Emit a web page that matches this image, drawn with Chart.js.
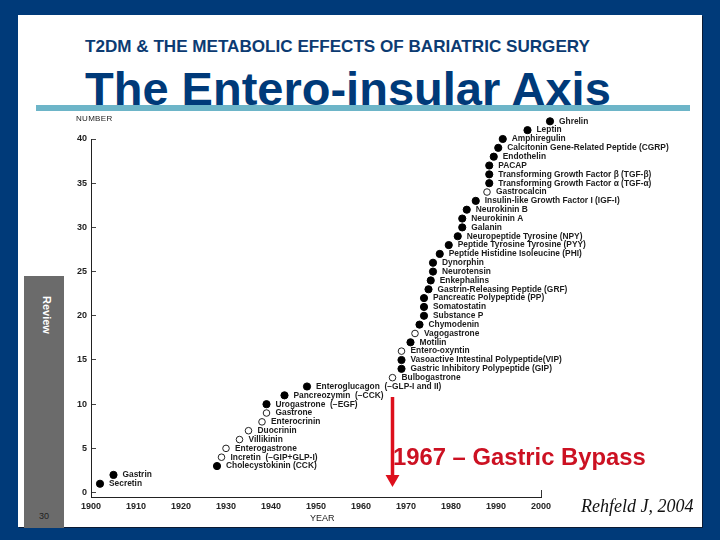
<!DOCTYPE html>
<html>
<head>
<meta charset="utf-8">
<title>The Entero-insular Axis</title>
<script src="https://cdn.jsdelivr.net/npm/chart.js@4"></script>
<style>
html, body { margin: 0; padding: 0; }
body { width: 720px; height: 540px; background: #003a79; position: relative; overflow: hidden; font-family: "Liberation Sans", Arial, sans-serif; }
#panel { position: absolute; left: 18px; top: 15px; width: 684px; height: 512px; background: #fff; box-shadow: 1px 1px 0 #0b1a33; }
#sidebar { position: absolute; left: 24px; top: 276px; width: 40px; height: 252px; background: #6b6b6b; }
#review { position: absolute; left: 40px; top: 296px; writing-mode: vertical-rl; color: #fff; font-weight: bold; font-size: 11px; line-height: 14px; }
#page { position: absolute; left: 39px; top: 511px; font-size: 9px; color: #222; }
#sub { position: absolute; left: 85px; top: 37px; font-size: 17.1px; font-weight: bold; color: #0c3b72; white-space: nowrap; }
#title { position: absolute; left: 85px; top: 63px; font-size: 47px; line-height: 52px; font-weight: bold; color: #003a79; white-space: nowrap; }
#rule { position: absolute; left: 36px; top: 105px; width: 654px; height: 6px; background: #6db5c8; }
#chartwrap { position: absolute; left: 0; top: 0; width: 720px; height: 540px; }
#numlabel { position: absolute; left: 76px; top: 114px; font-size: 8px; letter-spacing: 0.3px; color: #222; }
#yearlabel { position: absolute; left: 310px; top: 513px; font-size: 9px; color: #222; }
#bypass { position: absolute; left: 393px; top: 443px; font-size: 23.8px; font-weight: bold; color: #cc1122; white-space: nowrap; }
#cite { position: absolute; left: 581px; top: 496px; font-family: "Liberation Serif", serif; font-style: italic; font-size: 18px; color: #111; white-space: nowrap; }
</style>
</head>
<body>
<div id="panel"></div>
<div id="sidebar"></div>
<div id="review">Review</div>
<div id="page">30</div>
<div id="sub">T2DM &amp; THE METABOLIC EFFECTS OF BARIATRIC SURGERY</div>
<div id="title">The Entero-insular Axis</div>
<div id="rule"></div>
<div id="chartwrap"><canvas id="chart" width="720" height="540"></canvas></div>
<div id="numlabel">NUMBER</div>
<div id="yearlabel">YEAR</div>
<div id="bypass">1967 – Gastric Bypass</div>
<div id="cite">Rehfeld J, 2004</div>

<script>
// peptides in order of discovery (count = running total)
var peptideNames = [
    "Secretin", "Gastrin", "Cholecystokinin (CCK)", "Incretin  (−GIP+GLP-I)", "Enterogastrone",
    "Villikinin", "Duocrinin", "Enterocrinin", "Gastrone", "Urogastrone  (−EGF)",
    "Pancreozymin  (−CCK)", "Enteroglucagon  (−GLP-I and II)", "Bulbogastrone",
    "Gastric Inhibitory Polypeptide (GIP)", "Vasoactive Intestinal Polypeptide(VIP)", "Entero-oxyntin",
    "Motilin", "Vagogastrone", "Chymodenin", "Substance P", "Somatostatin",
    "Pancreatic Polypeptide (PP)", "Gastrin-Releasing Peptide (GRF)", "Enkephalins", "Neurotensin",
    "Dynorphin", "Peptide Histidine Isoleucine (PHI)", "Peptide Tyrosine Tyrosine (PYY)",
    "Neuropeptide Tyrosine (NPY)", "Galanin", "Neurokinin A", "Neurokinin B",
    "Insulin-like Growth Factor I (IGF-I)", "Gastrocalcin", "Transforming Growth Factor α (TGF-α)",
    "Transforming Growth Factor β (TGF-β)", "PACAP", "Endothelin",
    "Calcitonin Gene-Related Peptide (CGRP)", "Amphiregulin", "Leptin", "Ghrelin"
];
var peptideYears = [
    1902, 1905, 1928, 1929, 1930, 1933, 1935, 1938, 1939, 1939,
    1943, 1948, 1967, 1969, 1969, 1969, 1971, 1972, 1973, 1974,
    1974, 1974, 1975, 1975.5, 1976, 1976, 1977.5, 1979.5, 1981.5, 1982.5,
    1982.5, 1983.5, 1985.5, 1988, 1988.5, 1988.5, 1988.5, 1989.5, 1990.5, 1991.5,
    1997, 2002
];
var peptideCounts = [
    1, 2, 3, 4, 5, 6, 7, 8, 9, 10,
    11, 12, 13, 14, 15, 16, 17, 18, 19, 20,
    21, 22, 23, 24, 25, 26, 27, 28, 29, 30,
    31, 32, 33, 34, 35, 36, 37, 38, 39, 40,
    41, 42
];
// drawn as open circles in the figure
var hollowNames = ["Incretin  (−GIP+GLP-I)", "Enterogastrone", "Villikinin", "Duocrinin", "Enterocrinin",
    "Gastrone", "Bulbogastrone", "Entero-oxyntin", "Vagogastrone", "Gastrocalcin"];

var yearTicks = [1900, 1910, 1920, 1930, 1940, 1950, 1960, 1970, 1980, 1990, 2000];
var numberTicks = [0, 5, 10, 15, 20, 25, 30, 35, 40];

var bypassYear = [1967, 1967];
var bypassCount = [10.8, 1.55];

function pointsFor(hollow) {
    var pts = [];
    for (var i = 0; i < peptideNames.length; i++) {
        if ((hollowNames.indexOf(peptideNames[i]) >= 0) === hollow) {
            pts.push({ x: peptideYears[i], y: peptideCounts[i], name: peptideNames[i] });
        }
    }
    return pts;
}

// the last points sit above/right of the axes, so let them draw outside chartArea
var savedArea = null;
const overflowPoints = {
    id: 'overflowPoints',
    beforeDatasetsDraw(chart) {
        savedArea = chart.chartArea;
        chart.chartArea = Object.assign({}, savedArea, { top: 0, right: chart.width });
    },
    afterDatasetsDraw(chart) {
        chart.chartArea = savedArea;
    }
};

// peptide names next to each point
const nameLabels = {
    id: 'nameLabels',
    afterDatasetsDraw(chart) {
        const ctx = chart.ctx;
        ctx.save();
        ctx.font = 'bold 8.4px "Liberation Sans"';
        ctx.fillStyle = '#1c1c1c';
        ctx.textBaseline = 'middle';
        for (var i = 0; i < peptideNames.length; i++) {
            var x = chart.scales.x.getPixelForValue(peptideYears[i]);
            var y = chart.scales.y.getPixelForValue(peptideCounts[i]);
            ctx.fillText(peptideNames[i], x + 9, y);
        }
        ctx.restore();
    }
};

const chart = new Chart(document.getElementById('chart').getContext('2d'), {
    type: 'scatter',
    data: {
        datasets: [
            {
                label: 'Peptides',
                data: pointsFor(false),
                backgroundColor: '#000',
                borderColor: '#000',
                pointRadius: 3.6,
                clip: false
            },
            {
                label: 'Hypothetical',
                data: pointsFor(true),
                backgroundColor: '#fff',
                borderColor: '#222',
                borderWidth: 1,
                pointRadius: 3.3,
                clip: false
            },
            {
                label: 'Gastric Bypass',
                data: bypassYear.map(function (y, i) { return { x: y, y: bypassCount[i] }; }),
                showLine: true,
                borderColor: '#dd0f1c',
                backgroundColor: '#dd0f1c',
                borderWidth: 3.5,
                pointBorderWidth: 0,
                pointStyle: 'triangle',
                pointRotation: 180,
                pointRadius: [0, 8],
                clip: false
            }
        ]
    },
    options: {
        responsive: false,
        animation: false,
        layout: { padding: { left: 0, right: 179, top: 139, bottom: 0 } },
        plugins: { legend: { display: false }, tooltip: { enabled: false } },
        scales: {
            x: {
                type: 'linear',
                min: 1900,
                max: 2000,
                afterFit: function (scale) { scale.height = 43; },
                afterBuildTicks: function (scale) { scale.ticks = yearTicks.map(function (v) { return { value: v }; }); },
                border: { color: '#222', width: 1 },
                grid: {
                    drawOnChartArea: false,
                    tickLength: -7,
                    tickColor: function (c) { return c.tick && c.tick.value === 2000 ? '#333' : 'transparent'; }
                },
                ticks: { color: '#222', font: { size: 9, weight: '600', family: 'Liberation Sans' }, padding: 11, maxRotation: 0,
                    callback: function (v) { return String(v); } }
            },
            y: {
                type: 'linear',
                min: -0.5,
                max: 40,
                afterFit: function (scale) { scale.width = 91; },
                afterBuildTicks: function (scale) { scale.ticks = numberTicks.map(function (v) { return { value: v }; }); },
                border: { color: '#222', width: 1 },
                grid: { drawOnChartArea: false, tickLength: -5, color: '#444' },
                ticks: { color: '#222', font: { size: 9, weight: '600', family: 'Liberation Sans' }, padding: 9,
                    callback: function (v) { return String(v); } }
            }
        }
    },
    plugins: [overflowPoints, nameLabels]
});
</script>
</body>
</html>
